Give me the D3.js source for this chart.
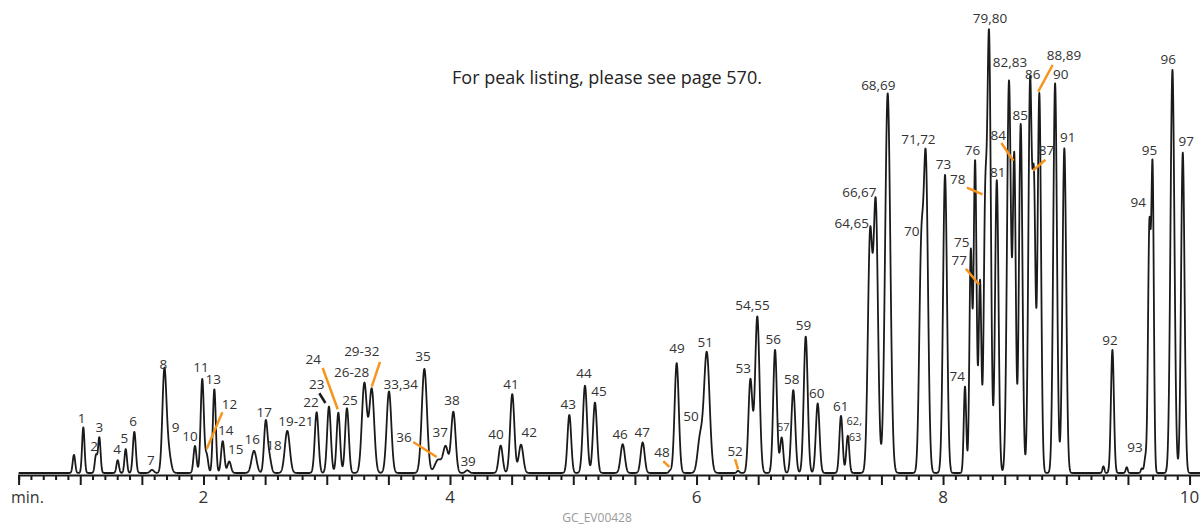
<!DOCTYPE html>
<meta charset="utf-8">
<head><title>GC_EV00428</title></head>
<script src="https://d3js.org/d3.v7.min.js"></script>
<style>
  body { margin: 0; background: #fff; }
  text { font-family: "Open Sans", "Noto Sans", sans-serif; }
</style>
<body>
<div id="my_dataviz"></div>
<script>

// peaks: retention time (min), relative height, sigma (min)
var peakTimes = [0.949, 1.025, 1.128, 1.155, 1.304, 1.369, 1.439, 1.582, 1.682, 1.712,
  1.931, 1.990, 2.026, 2.088, 2.156, 2.209, 2.410, 2.505, 2.534, 2.680,
  2.918, 3.018, 3.094, 3.164, 3.305, 3.365, 3.505, 3.792, 3.905, 3.965,
  4.027, 4.140, 4.411, 4.505, 4.576, 4.968, 5.095, 5.176, 5.401, 5.563,
  5.785, 5.839, 6.028, 6.083, 6.337, 6.437, 6.493, 6.637, 6.691, 6.785,
  6.886, 6.983, 7.172, 7.227, 7.408, 7.454, 7.551, 7.822, 7.860, 8.016,
  8.178, 8.225, 8.260, 8.300, 8.341, 8.373, 8.436, 8.535, 8.578, 8.630,
  8.706, 8.738, 8.781, 8.909, 8.984, 9.301, 9.374, 9.490, 9.612, 9.642,
  9.674, 9.700, 9.861, 9.945];
var peakHeights = [4.1, 10.3, 4.0, 8.0, 2.9, 5.4, 9.3, 0.7, 21.9, 5.5,
  6.1, 21.2, 4.0, 18.9, 7.2, 2.6, 5.0, 11.4, 3.5, 9.5,
  13.7, 15.0, 13.6, 14.6, 20.2, 18.9, 18.4, 23.5, 3.0, 5.8,
  13.8, 0.6, 6.2, 17.8, 6.4, 13.1, 19.7, 15.9, 6.5, 6.9,
  0.5, 24.8, 7.5, 27.2, 0.5, 21.0, 35.3, 27.8, 8.0, 18.7,
  30.8, 15.7, 12.9, 8.4, 53.0, 60.0, 85.7, 46.0, 70.0, 67.3,
  19.5, 49.6, 70.3, 43.2, 54.0, 98.5, 66.1, 88.5, 69.9, 78.8,
  87.7, 61.0, 85.7, 88.0, 73.3, 1.5, 27.8, 1.3, 1.0, 3.4,
  55.0, 67.0, 91.0, 72.3];
var peakWidths = [0.010, 0.010, 0.010, 0.010, 0.010, 0.010, 0.012, 0.015, 0.016, 0.020,
  0.012, 0.013, 0.012, 0.012, 0.013, 0.014, 0.020, 0.014, 0.015, 0.020,
  0.015, 0.015, 0.014, 0.015, 0.020, 0.020, 0.019, 0.021, 0.028, 0.020,
  0.018, 0.015, 0.016, 0.017, 0.018, 0.015, 0.017, 0.016, 0.017, 0.016,
  0.010, 0.017, 0.020, 0.023, 0.010, 0.016, 0.018, 0.015, 0.013, 0.016,
  0.016, 0.015, 0.013, 0.012, 0.018, 0.018, 0.021, 0.016, 0.018, 0.016,
  0.010, 0.011, 0.012, 0.011, 0.012, 0.015, 0.014, 0.016, 0.012, 0.014,
  0.014, 0.012, 0.014, 0.015, 0.015, 0.008, 0.012, 0.008, 0.008, 0.010,
  0.011, 0.010, 0.016, 0.014];

// peak labels: text, anchor time, anchor height (baseline of text)
var labelText = ["1", "2", "3", "4", "5", "6", "7", "8", "9", "10",
  "11", "13", "12", "14", "15", "16", "17", "18", "19-21", "22",
  "23", "24", "25", "26-28", "29-32", "33,34", "35", "36", "37", "38",
  "39", "40", "41", "42", "43", "44", "45", "46", "47", "48",
  "49", "50", "51", "52", "53", "54,55", "56", "58", "59", "60",
  "61", "64,65", "66,67", "68,69", "70", "71,72", "73", "74", "75", "76",
  "77", "78", "79,80", "81", "82,83", "84", "85", "86", "87", "88,89",
  "90", "91", "92", "93", "94", "95", "96", "97"];
var labelTime = [1.012, 1.112, 1.155, 1.300, 1.358, 1.430, 1.574, 1.674, 1.774, 1.890,
  1.980, 2.080, 2.211, 2.180, 2.261, 2.396, 2.493, 2.572, 2.749, 2.872,
  2.918, 2.891, 3.189, 3.202, 3.284, 3.600, 3.780, 3.627, 3.921, 4.016,
  4.147, 4.373, 4.495, 4.643, 4.959, 5.087, 5.209, 5.380, 5.559, 5.720,
  5.841, 5.955, 6.071, 6.313, 6.379, 6.454, 6.623, 6.772, 6.867, 6.976,
  7.170, 7.259, 7.321, 7.475, 7.746, 7.800, 8.003, 8.116, 8.152, 8.238,
  8.131, 8.119, 8.381, 8.444, 8.543, 8.448, 8.627, 8.728, 8.839, 8.981,
  8.955, 9.011, 9.355, 9.558, 9.584, 9.674, 9.827, 9.973];
var labelHeight = [11.2, 5.0, 9.2, 4.3, 6.8, 10.6, 1.8, 23.5, 9.2, 7.3,
  22.8, 20.2, 14.4, 8.6, 4.3, 6.5, 12.7, 5.2, 10.6, 14.9,
  19.0, 24.6, 15.3, 21.6, 26.3, 19.0, 25.3, 7.0, 8.1, 15.3,
  1.6, 7.7, 19.0, 8.1, 14.4, 21.4, 17.4, 7.7, 8.1, 3.6,
  27.1, 11.7, 28.4, 3.8, 22.6, 36.8, 29.2, 20.1, 32.3, 16.9,
  14.0, 55.2, 62.4, 86.5, 53.5, 74.2, 68.6, 20.8, 51.1, 71.7,
  46.9, 65.2, 101.5, 66.9, 91.7, 75.2, 79.7, 88.9, 71.8, 93.2,
  88.9, 74.8, 29.0, 4.8, 60.1, 71.8, 92.3, 73.8];

// smaller labels
var smallText = ["57", "62,", "63"];
var smallTime = [6.704, 7.280, 7.286];
var smallHeight = [9.4, 10.8, 7.2];

// leader lines [t1, h1, t2, h2] and colour
var leaderLines = [
  [2.153, 13.7, 2.026, 5.4],
  [2.940, 18.0, 2.989, 15.8],
  [2.967, 23.7, 3.089, 14.4],
  [3.432, 25.1, 3.365, 19.5],
  [3.702, 7.0, 3.892, 3.6],
  [5.730, 2.7, 5.779, 1.4],
  [6.313, 3.1, 6.337, 0.8],
  [8.185, 46.1, 8.293, 42.5],
  [8.193, 64.4, 8.320, 62.9],
  [8.473, 74.5, 8.571, 70.5],
  [8.830, 70.7, 8.730, 68.3],
  [8.889, 92.1, 8.772, 86.1]
];
var leaderColor = ["orange", "black", "orange", "orange", "orange", "orange", "orange",
  "orange", "orange", "orange", "orange", "orange"];

var width = 1200, height = 525;
var svg = d3.select("#my_dataviz")
  .append("svg")
  .attr("width", width)
  .attr("height", height);

var x = d3.scaleLinear()
  .domain([0.5, 10.1])
  .range([18.6, 1201.9]);
var y = d3.scaleLinear()
  .domain([0, 100])
  .range([473, 30]);

// build the trace from the peak list
var trace = [];
for (var t = 0.5; t <= 10.1; t += 0.0012) {
  var s = 0;
  for (var i = 0; i < peakTimes.length; i++) {
    var d = (t - peakTimes[i]) / peakWidths[i];
    if (Math.abs(d) < 8) s += peakHeights[i] * Math.exp(-0.5 * d * d);
  }
  trace.push([t, s]);
}

// axis
var axisY = 475;
var axis = d3.axisBottom(x)
  .tickValues(d3.range(0.5, 10.101, 0.1))
  .tickSize(5)
  .tickFormat("");
svg.append("g")
  .attr("transform", "translate(0," + axisY + ")")
  .call(axis)
  .call(function(g) {
    g.select(".domain").attr("stroke", "#1a1a1a").attr("stroke-width", 2.2);
    g.selectAll(".tick line").attr("stroke", "#1a1a1a").attr("stroke-width", 2)
      .attr("y2", function(d) { return Math.abs(d * 2 - Math.round(d * 2)) < 0.01 ? 10 : 5; });
  });

svg.append("g")
  .selectAll("text")
  .data([2, 4, 6, 8, 10])
  .enter()
  .append("text")
  .attr("x", function(d) { return x(d); })
  .attr("y", 503)
  .attr("text-anchor", "middle")
  .attr("font-size", "17px")
  .attr("fill", "#333")
  .text(function(d) { return d; });

svg.append("text")
  .attr("x", 11)
  .attr("y", 503)
  .attr("font-size", "16px")
  .attr("fill", "#333")
  .text("min.");

// chromatogram
svg.append("path")
  .datum(trace)
  .attr("fill", "none")
  .attr("stroke", "#1a1a1a")
  .attr("stroke-width", 1.8)
  .attr("stroke-linejoin", "round")
  .attr("d", d3.line()
    .x(function(d) { return x(d[0]); })
    .y(function(d) { return y(d[1]); }));

// leader lines
svg.append("g")
  .selectAll("line")
  .data(leaderLines)
  .enter()
  .append("line")
  .attr("x1", function(d) { return x(d[0]); })
  .attr("y1", function(d) { return y(d[1]); })
  .attr("x2", function(d) { return x(d[2]); })
  .attr("y2", function(d) { return y(d[3]); })
  .attr("stroke", function(d, i) { return leaderColor[i] == "orange" ? "#f7941d" : "#1a1a1a"; })
  .attr("stroke-width", 2.5);

// peak labels
svg.append("g")
  .selectAll("text")
  .data(labelText)
  .enter()
  .append("text")
  .attr("x", function(d, i) { return x(labelTime[i]); })
  .attr("y", function(d, i) { return y(labelHeight[i]); })
  .attr("text-anchor", "middle")
  .attr("font-size", "13.5px")
  .attr("fill", "#333")
  .text(function(d) { return d; });

svg.append("g")
  .selectAll("text")
  .data(smallText)
  .enter()
  .append("text")
  .attr("x", function(d, i) { return x(smallTime[i]); })
  .attr("y", function(d, i) { return y(smallHeight[i]); })
  .attr("text-anchor", "middle")
  .attr("font-size", "11px")
  .attr("fill", "#333")
  .text(function(d) { return d; });

// note and file id
svg.append("text")
  .attr("x", 607)
  .attr("y", 84)
  .attr("text-anchor", "middle")
  .attr("font-size", "18px")
  .attr("fill", "#222")
  .text("For peak listing, please see page 570.");

svg.append("text")
  .attr("x", 597)
  .attr("y", 522)
  .attr("text-anchor", "middle")
  .attr("font-size", "12px")
  .attr("fill", "#999")
  .text("GC_EV00428");

</script>
</body>
